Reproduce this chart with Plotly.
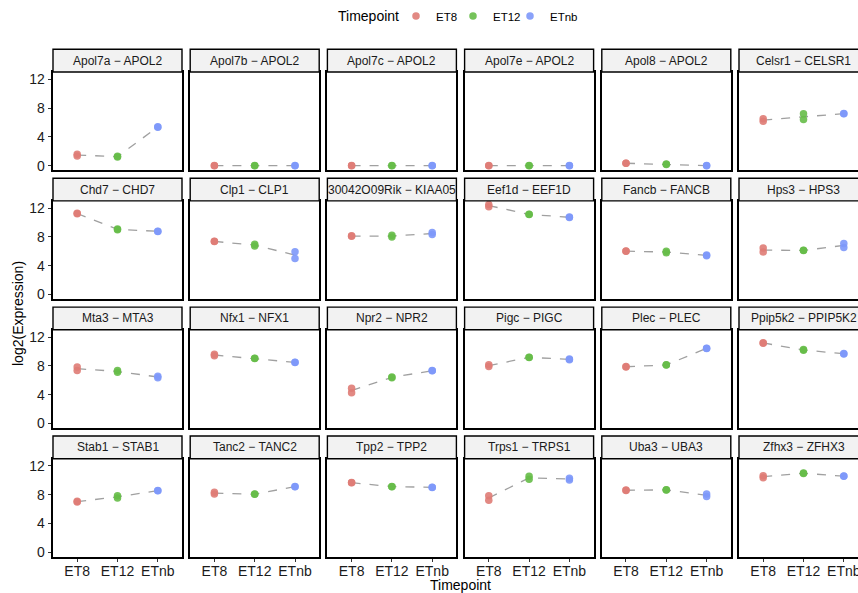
import plotly.graph_objects as go

# ---------------- data ----------------
timepoints = ["ET8", "ET12", "ETnb"]
panel_labels = [
    "Apol7a − APOL2", "Apol7b − APOL2", "Apol7c − APOL2", "Apol7e − APOL2", "Apol8 − APOL2", "Celsr1 − CELSR1",
    "Chd7 − CHD7", "Clp1 − CLP1", "30042O09Rik − KIAA05", "Eef1d − EEF1D", "Fancb − FANCB", "Hps3 − HPS3",
    "Mta3 − MTA3", "Nfx1 − NFX1", "Npr2 − NPR2", "Pigc − PIGC", "Plec − PLEC", "Ppip5k2 − PPIP5K2",
    "Stab1 − STAB1", "Tanc2 − TANC2", "Tpp2 − TPP2", "Trps1 − TRPS1", "Uba3 − UBA3", "Zfhx3 − ZFHX3",
]
# two replicates per timepoint, log2(Expression)
et8_values = [
    [1.35, 1.6], [0.0, 0.02], [0.0, 0.02], [0.0, 0.02], [0.32, 0.35], [6.15, 6.5],
    [11.2, 11.3], [7.35, 7.4], [8.1, 8.15], [12.2, 12.5], [6.0, 6.05], [5.9, 6.45],
    [7.35, 7.85], [9.4, 9.6], [4.25, 4.9], [7.9, 8.15], [7.85, 7.9], [11.15, 11.2],
    [7.0, 7.1], [8.1, 8.35], [9.65, 9.7], [7.25, 7.85], [8.6, 8.65], [10.35, 10.65],
]
et12_values = [
    [1.2, 1.3], [0.0, 0.02], [0.0, 0.02], [0.0, 0.02], [0.15, 0.22], [6.4, 7.2],
    [9.0, 9.1], [6.75, 7.0], [8.0, 8.25], [11.1, 11.15], [5.8, 6.0], [6.1, 6.15],
    [7.1, 7.35], [9.0, 9.05], [6.35, 6.45], [9.15, 9.2], [8.1, 8.15], [10.15, 10.25],
    [7.55, 7.85], [8.05, 8.1], [9.1, 9.15], [10.15, 10.55], [8.65, 8.7], [10.95, 11.0],
]
etnb_values = [
    [5.35, 5.4], [0.0, 0.02], [0.0, 0.02], [0.0, 0.02], [0.0, 0.02], [7.2, 7.25],
    [8.75, 8.8], [5.0, 5.95], [8.35, 8.6], [10.7, 10.75], [5.4, 5.5], [6.55, 7.1],
    [6.35, 6.55], [8.45, 8.5], [7.3, 7.35], [8.85, 8.95], [10.4, 10.45], [9.65, 9.7],
    [8.55, 8.6], [9.1, 9.15], [9.0, 9.05], [10.05, 10.3], [7.75, 8.1], [10.55, 10.6],
]
y_ticks = [0, 4, 8, 12]
colors = {"ET8": "#DF7C75", "ET12": "#66BC48", "ETnb": "#7D98FA"}

# ---------------- layout geometry (pixels) ----------------
W, H = 858, 593
FONT = "Liberation Sans, Arial, sans-serif"
col_left = [53 + 137.2 * c for c in range(6)]
panel_w = 129
row_top = [72 + 128.9 * r for r in range(4)]
panel_h = 98
strip_h = 22.7
px_per_cat = panel_w / 3.2


def fx(p):
    return p / W


def fy(p):
    return 1 - p / H


fig = go.Figure()
shapes = []
annotations = []
layout_axes = {}

series = {"ET8": et8_values, "ET12": et12_values, "ETnb": etnb_values}

for i, label in enumerate(panel_labels):
    r, c = divmod(i, 6)
    n = i + 1
    xa = "x" if n == 1 else f"x{n}"
    ya = "y" if n == 1 else f"y{n}"
    left = col_left[c]
    right = left + panel_w
    top = row_top[r]
    last_col = c == 5

    # mean line
    means = [sum(series[t][i]) / len(series[t][i]) for t in timepoints]
    fig.add_trace(go.Scatter(
        x=timepoints, y=means, mode="lines",
        line=dict(color="#A0A0A0", width=1.3, dash="dash"),
        showlegend=False, hoverinfo="skip", xaxis=xa, yaxis=ya,
    ))
    for t in timepoints:
        vals = series[t][i]
        fig.add_trace(go.Scatter(
            x=[t] * len(vals), y=vals, mode="markers",
            marker=dict(color=colors[t], size=7.5, opacity=0.9, line=dict(width=0)),
            name=t, legendgroup=t, showlegend=(i == 0),
            xaxis=xa, yaxis=ya,
        ))

    x_hi = 2.6 if not last_col else -0.6 + (W - left) / px_per_cat
    dom_r = min(right / W, 1.0)
    bottom_row = r == 3
    first_col = c == 0
    layout_axes["xaxis" if n == 1 else f"xaxis{n}"] = dict(
        domain=[fx(left), dom_r], anchor=ya,
        type="category", categoryorder="array", categoryarray=timepoints,
        range=[-0.6, x_hi], showgrid=False, zeroline=False,
        showline=True, linecolor="black", linewidth=1.6, mirror=True,
        ticks="outside" if bottom_row else "", ticklen=3.5, tickwidth=1, tickcolor="#333333",
        showticklabels=bottom_row, ticklabelstandoff=-3,
        tickfont=dict(family=FONT, size=14, color="#1A1A1A"),
        fixedrange=True, automargin=False,
    )
    layout_axes["yaxis" if n == 1 else f"yaxis{n}"] = dict(
        domain=[fy(top + panel_h), fy(top)], anchor=xa,
        range=[-0.6, 13.0], tickvals=y_ticks, showgrid=False, zeroline=False,
        showline=True, linecolor="black", linewidth=1.6, mirror=not last_col,
        ticks="outside" if first_col else "", ticklen=3.5, tickwidth=1, tickcolor="#333333",
        showticklabels=first_col,
        tickfont=dict(family=FONT, size=14, color="#1A1A1A"),
        fixedrange=True, automargin=False,
    )

    # strip
    s_right = left + panel_w
    shapes.append(dict(
        type="rect", xref="paper", yref="paper",
        x0=fx(left), x1=fx(s_right), y0=fy(top), y1=fy(top - strip_h),
        fillcolor="#F2F2F2", line=dict(color="black", width=1.4), layer="above",
    ))
    annotations.append(dict(
        x=fx((left + s_right) / 2), y=fy(top - strip_h / 2), xref="paper", yref="paper",
        text=label, showarrow=False, xanchor="center", yanchor="middle",
        font=dict(family=FONT, size=12, color="#1A1A1A"),
    ))

# spacer entry so the last legend label is not clipped
fig.add_trace(go.Scatter(
    x=[None], y=[None], mode="markers", marker=dict(color="rgba(0,0,0,0)", size=1),
    name=" ", showlegend=True, hoverinfo="skip",
))

# axis titles and legend title
annotations.append(dict(
    x=fx(461), y=fy(585), xref="paper", yref="paper", text="Timepoint",
    showarrow=False, xanchor="center", yanchor="middle",
    font=dict(family=FONT, size=14, color="black"),
))
annotations.append(dict(
    x=fx(18), y=fy(314), xref="paper", yref="paper", text="log2(Expression)",
    showarrow=False, xanchor="center", yanchor="middle", textangle=-90,
    font=dict(family=FONT, size=14, color="black"),
))
annotations.append(dict(
    x=fx(336), y=fy(16), xref="paper", yref="paper", text="Timepoint",
    showarrow=False, xanchor="left", yanchor="middle",
    font=dict(family=FONT, size=14, color="black"),
))

fig.update_layout(
    width=W, height=H,
    margin=dict(l=0, r=0, t=0, b=0),
    paper_bgcolor="white", plot_bgcolor="white",
    shapes=shapes, annotations=annotations,
    legend=dict(
        orientation="h", x=fx(396), xanchor="left", y=fy(16), yanchor="middle",
        font=dict(family=FONT, size=11.5, color="black"),
        itemwidth=30, entrywidth=12, entrywidthmode="pixels",
        bgcolor="rgba(0,0,0,0)",
    ),
    **layout_axes,
)

fig.write_html(
    "out.html",
    config={"displayModeBar": False},
    post_script="document.body.style.margin='0';document.body.style.overflow='hidden';",
)
